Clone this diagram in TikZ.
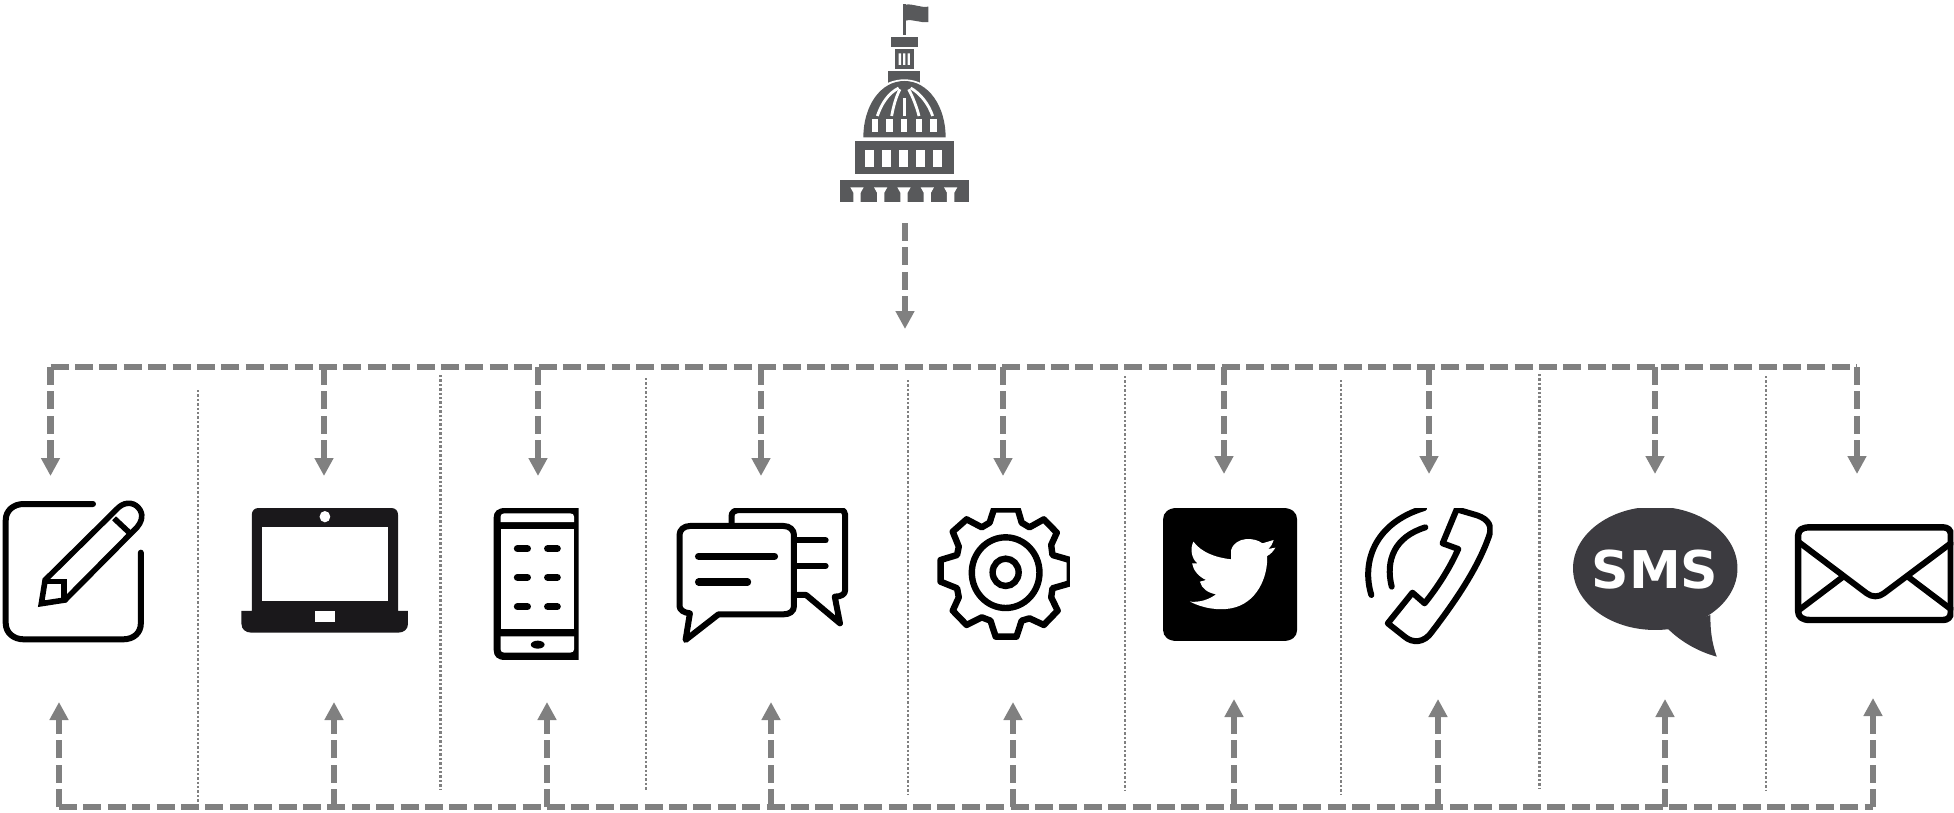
\documentclass[tikz,border=0pt]{standalone}
\usepackage{fontspec}
\usetikzlibrary{arrows.meta}
\newfontfamily\smsfont{DejaVu Sans}
\definecolor{flowgray}{HTML}{808080}
\definecolor{capgray}{HTML}{58595B}
\definecolor{lapblack}{HTML}{1A181B}
\definecolor{smsdark}{HTML}{3C3B40}
\tikzset{
  flowline/.style={draw=flowgray,line width=3.3pt,dash pattern=on 9pt off 3.2pt},
  flowarrow/.style={flowline,-{Triangle[width=9pt,length=9pt,fill=flowgray]}},
  sepline/.style={draw=flowgray,line width=1.2pt,dash pattern=on 1.2pt off 1pt},
  iconline/.style={draw=black,line width=3pt,line cap=round,line join=round},
  thickicon/.style={draw=black,line width=3.6pt,line cap=round,line join=round},
  zoomA/.style={shift={(0,480)},xscale=.3827,yscale=.3333},
  zoomB/.style={shift={(650,480)},xscale=.4337,yscale=.3333},
  zoomC/.style={shift={(1340,480)},xscale=.3916,yscale=.3333},
  zoomT/.style={shift={(800,0)},xscale=.3333,yscale=.3333},
}
\begin{document}
\begin{tikzpicture}[x=0.5pt,y=-0.5pt]
\useasboundingbox (0,0) rectangle (1954,813);

% separators
\foreach \n/\sx/\sa/\sb in {1/198/390/804,2/440.5/375/789,3/646/378/791,4/908/380/795,5/1125/376/790,6/1341/380/795,7/1539.5/374/789,8/1766/376/791}{
  \coordinate (sepa\n) at (\sx,\sa);
  \coordinate (sepb\n) at (\sx,\sb);
  \draw[sepline] (sepa\n) -- (sepb\n);
}

% top distribution
\coordinate (capsrc) at (905,223);
\coordinate (captip) at (905,329);
\draw[flowarrow] (capsrc) -- (captip);
\foreach \n/\ax/\ay in {1/50.5/476,2/324/476,3/538/476,4/761/476,5/1003/476,6/1224/474,7/1429/474,8/1655/474,9/1857/474}{
  \coordinate (tb\n) at (\ax,367);
  \coordinate (tt\n) at (\ax,\ay);
  \draw[flowarrow] (tb\n) -- (tt\n);
}
\draw[flowline] (tb1) -- (tb9);

% bottom collection
\foreach \n/\ax/\ay in {1/59/702,2/334/702,3/547/702,4/771/702,5/1013/702,6/1234/699,7/1438/699,8/1665/699,9/1873/698}{
  \coordinate (bb\n) at (\ax,807);
  \coordinate (bt\n) at (\ax,\ay);
  \draw[flowarrow] (bb\n) -- (bt\n);
}
\draw[flowline] (bb1) -- (bb9);

% capitol
\begin{scope}[zoomT]
  \fill[capgray] (308,12) rectangle (318,104);
  \fill[capgray] (316,14) .. controls (340,10) and (360,24) .. (385,20) -- (385,66) .. controls (360,70) and (340,56) .. (316,62) -- cycle;
  \fill[capgray] (272,112) rectangle (355,140);
  \fill[capgray] (284,146) rectangle (342,206);
  \fill[white] (296,160) rectangle (303,195) (309,160) rectangle (316,195) (323,160) rectangle (330,195);
  \fill[capgray] (265,212) rectangle (361,250);
  \fill[white] (240,262) .. controls (260,248) and (285,238) .. (313,238) .. controls (340,238) and (365,248) .. (385,262) -- cycle;
  \fill[capgray] (190,412) .. controls (190,320) and (240,243) .. (313,243) .. controls (386,243) and (437,320) .. (437,412) -- cycle;
  \draw[white,line width=1.4pt] (296,264) .. controls (265,280) and (245,310) .. (232,348);
  \draw[white,line width=1.4pt] (300,268) .. controls (288,290) and (280,320) .. (275,348);
  \draw[white,line width=1.4pt] (313,295) -- (313,348);
  \draw[white,line width=1.4pt] (326,268) .. controls (338,290) and (350,320) .. (357,348);
  \draw[white,line width=1.4pt] (332,264) .. controls (360,280) and (385,310) .. (398,348);
  \foreach \wa/\wb in {217/235,259/278,304/322,347/365,390/410}{\fill[white] (\wa,358) rectangle (\wb,397);}
  \fill[capgray] (165,423) rectangle (462,522);
  \foreach \wa/\wb in {194/221,246/272,297/323,348/374,400/426}{\fill[white] (\wa,451) rectangle (\wb,502);}
  \fill[capgray] (120,540) rectangle (507,605);
  \foreach \gc in {171,242,312,382,452}{
    \fill[white] (\gc-20,562) -- (\gc+20,562) -- (\gc+11,578) -- (\gc+11,606) -- (\gc-11,606) -- (\gc-11,578) -- cycle;
  }
\end{scope}

% pen
\begin{scope}[zoomA]
  \draw[iconline] (243,72) -- (62,72) .. controls (35,72) and (15,92) .. (15,120) -- (15,430) .. controls (15,458) and (35,478) .. (62,478) -- (322,478) .. controls (350,478) and (368,458) .. (368,430) -- (368,218);
  \draw[iconline,line width=2.8pt,line cap=butt,line join=miter] (118,300) -- (310,82) .. controls (330,62) and (355,68) .. (366,90) .. controls (376,110) and (368,128) .. (358,142) -- (170,360) -- (108,371) -- cycle;
  \draw[iconline,line width=2.8pt,line cap=butt,line join=miter] (298,115) -- (338,158);
  \draw[iconline,line width=2.8pt,line cap=butt,line join=miter] (118,305) -- (167,305) -- (167,358);
\end{scope}

% laptop
\begin{scope}[zoomA]
  \fill[lapblack] (658,393) -- (658,104) .. controls (658,92) and (665,84) .. (676,84) -- (1022,84) .. controls (1033,84) and (1040,92) .. (1040,104) -- (1040,393) -- (1066,393) -- (1066,432) .. controls (1066,448) and (1055,458) .. (1040,458) -- (657,458) .. controls (642,458) and (631,448) .. (631,432) -- (631,393) -- cycle;
  \fill[white] (685,142) rectangle (1014,363);
  \fill[white] (822,394) rectangle (876,426);
  \fill[white] (849,110) ellipse (14 and 17);
\end{scope}

% mobile phone
\begin{scope}[zoomA]
  \fill[black] (1512,84) -- (1320,84) .. controls (1300,84) and (1290,95) .. (1290,112) -- (1290,510) .. controls (1290,530) and (1300,540) .. (1320,540) -- (1512,540) -- cycle;
  \fill[white] (1308,126) -- (1308,110) .. controls (1308,104) and (1312,100) .. (1318,100) -- (1490,100) .. controls (1496,100) and (1500,104) .. (1500,110) -- (1500,126) -- cycle;
  \fill[white] (1308,148) rectangle (1500,447);
  \fill[white] (1308,469) -- (1500,469) -- (1500,508) .. controls (1500,514) and (1496,518) .. (1490,518) -- (1318,518) .. controls (1312,518) and (1308,514) .. (1308,508) -- cycle;
  \foreach \dy in {206,292,380}{
    \draw[black,line width=3.6pt,line cap=round] (1352,\dy) -- (1378,\dy);
    \draw[black,line width=3.6pt,line cap=round] (1431,\dy) -- (1456,\dy);
  }
  \fill[black] (1405,494) ellipse (18 and 12);
\end{scope}

% chat
\begin{scope}[zoomB]
  \begin{scope}
    \clip (0,84) rectangle (600,600);
    \draw[iconline] (188,130) -- (188,108) .. controls (188,96) and (196,90) .. (208,90) -- (438,90) .. controls (446,90) and (450,96) .. (450,104) -- (450,330) .. controls (450,342) and (442,350) .. (426,350) -- (438,430) -- (360,345) -- (340,345);
  \end{scope}
  \draw[iconline] (340,181) -- (405,181);
  \draw[iconline] (340,258) -- (405,258);
  \draw[iconline] (68,165) .. controls (68,150) and (78,138) .. (92,138) -- (308,138) .. controls (322,138) and (332,150) .. (332,165) -- (332,378) .. controls (332,394) and (322,403) .. (308,403) -- (158,403) -- (82,480) -- (92,400) .. controls (78,398) and (68,390) .. (68,378) -- cycle;
  \draw[thickicon] (112,229) -- (287,229);
  \draw[thickicon] (112,306) -- (225,306);
\end{scope}

% gear
\begin{scope}[zoomB]
  \begin{scope}
    \clip (600,84) rectangle (968,600);
    \draw[iconline,line width=3.2pt] (793,88) -- (848,88) -- (857,128) -- (875,142) -- (908,118) -- (938,158) -- (925,195) -- (928,225) -- (968,240) -- (968,310) -- (928,325) -- (925,352) -- (940,392) -- (908,435) -- (875,415) -- (857,422) -- (845,470) -- (797,470) -- (785,422) -- (765,412) -- (730,435) -- (698,392) -- (712,352) -- (708,325) -- (670,305) -- (670,240) -- (708,225) -- (712,200) -- (698,155) -- (730,118) -- (765,142) -- (783,128) -- cycle;
  \end{scope}
  \draw[black,line width=3.2pt] (820,278) ellipse (78 and 106);
  \draw[black,line width=3.2pt] (820,277) ellipse (30 and 41);
\end{scope}

% twitter
\begin{scope}[zoomB]
  \fill[black] (1215,84) -- (1460,84) .. controls (1480,84) and (1492,98) .. (1492,118) -- (1492,450) .. controls (1492,470) and (1480,483) .. (1460,483) -- (1215,483) .. controls (1195,483) and (1183,470) .. (1183,450) -- (1183,118) .. controls (1183,98) and (1195,84) .. (1215,84) -- cycle;
  \fill[white] (1438,180) -- (1412,190) .. controls (1395,172) and (1350,168) .. (1340,210) -- (1340,238) .. controls (1300,232) and (1270,215) .. (1253,185) .. controls (1245,205) and (1248,235) .. (1262,250) -- (1250,250) .. controls (1252,270) and (1265,290) .. (1282,300) -- (1268,305) .. controls (1272,325) and (1285,338) .. (1305,343) .. controls (1290,358) and (1268,368) .. (1245,365) .. controls (1275,385) and (1310,392) .. (1340,385) .. controls (1400,370) and (1425,290) .. (1423,228) .. controls (1432,222) and (1438,212) .. (1442,203) -- (1425,207) .. controls (1432,200) and (1436,190) .. (1438,180) -- cycle;
\end{scope}

% telephone
\begin{scope}[zoomC]
  \begin{scope}
    \clip (0,84) rectangle (390,600);
    \draw[iconline] (80,345) .. controls (55,250) and (85,130) .. (215,84);
    \draw[iconline] (132,320) .. controls (115,240) and (140,170) .. (218,142);
    \draw[iconline] (122,430) -- (185,338) -- (216,370) .. controls (250,320) and (280,265) .. (302,207) -- (262,190) -- (298,88) -- (350,106) .. controls (380,118) and (390,140) .. (380,170) .. controls (350,270) and (290,370) .. (235,455) .. controls (215,490) and (185,490) .. (165,470) -- cycle;
  \end{scope}
\end{scope}

% sms
\begin{scope}[zoomC]
  \begin{scope}
    \clip (500,84) rectangle (1100,600);
    \fill[smsdark] (805,265) ellipse (210 and 185);
    \fill[smsdark] (837,446) .. controls (870,485) and (915,515) .. (962,530) .. controls (950,490) and (945,450) .. (946,405) -- cycle;
  \end{scope}
\end{scope}
\node[text=white,font=\smsfont\bfseries\fontsize{26pt}{26pt}\selectfont,inner sep=0pt] (smslabel) at (1655,570) {SMS};

% envelope
\begin{scope}[zoomC]
  \begin{scope}
    \clip (1100,134) rectangle (1566,600);
    \draw[thickicon,line width=3.2pt,line cap=butt] (1200,142) -- (1540,142) .. controls (1552,142) and (1560,150) .. (1560,165) -- (1560,395) .. controls (1560,412) and (1552,420) .. (1540,420) -- (1200,420) .. controls (1180,420) and (1170,410) .. (1170,395) -- (1170,165) .. controls (1170,150) and (1180,142) .. (1200,142) -- cycle;
    \draw[iconline,line cap=butt] (1170,185) -- (1345,340) .. controls (1358,352) and (1376,352) .. (1389,340) -- (1565,185);
    \draw[iconline,line cap=butt] (1170,392) -- (1285,290);
    \draw[iconline,line cap=butt] (1565,392) -- (1450,290);
  \end{scope}
\end{scope}
\end{tikzpicture}
\end{document}
